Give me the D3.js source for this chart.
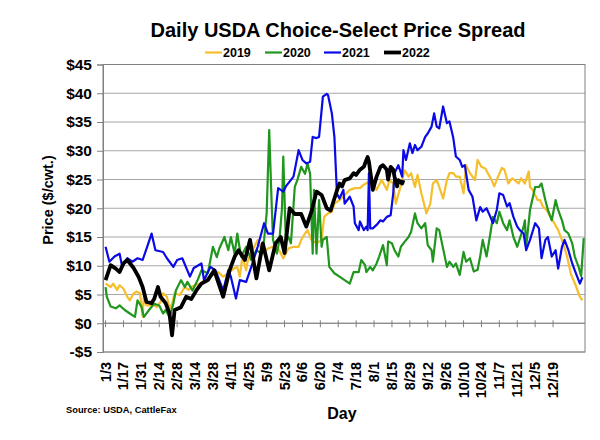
<!DOCTYPE html>
<html>
<head>
<meta charset="utf-8">
<script src="https://cdn.jsdelivr.net/npm/d3@7"></script>
<style>
  body { margin: 0; background: #fff; }
  text { font-family: "Liberation Sans", Arial, sans-serif; font-weight: bold; fill: #000; }
</style>
</head>
<body>
<div id="chart"></div>
<script>
// x is a day index (1/3 = 3), ticks every 14 days
var tickDays = [3, 17, 31, 45, 59, 73, 87, 101, 115, 129, 143, 157, 171, 185, 199, 213, 227, 241, 255, 269, 283, 297, 311, 325, 339, 353];
var tickLabels = ["1/3", "1/17", "1/31", "2/14", "2/28", "3/14", "3/28", "4/11", "4/25", "5/9", "5/23", "6/6", "6/20", "7/4", "7/18", "8/1", "8/15", "8/29", "9/12", "9/26", "10/10", "10/24", "11/7", "11/21", "12/5", "12/19"];
var yTicks = [-5, 0, 5, 10, 15, 20, 25, 30, 35, 40, 45];

var days2019 = [3, 7, 9, 12, 14, 17, 20, 22, 25, 27, 30, 32, 33, 35, 38, 40, 43, 46, 48, 51, 53, 55, 57, 61, 65, 68, 70, 73, 77, 82, 87, 91, 95, 99, 103, 106, 108, 110, 113, 114, 118, 122, 126, 130, 134, 138, 142, 146, 150, 154, 156, 159, 161, 164, 168, 172, 174, 177, 180, 182, 186, 190, 194, 198, 202, 205, 209, 211, 215, 219, 223, 225, 228, 230, 233, 237, 240, 242, 245, 247, 250, 254, 257, 259, 262, 264, 267, 270, 272, 275, 277, 280, 283, 285, 288, 292, 294, 297, 300, 302, 305, 307, 310, 313, 315, 318, 321, 323, 326, 328, 331, 334, 335, 337, 341, 343, 345, 348, 351, 354, 357, 360, 364, 367, 370, 374, 376];
var spread2019 = [6.9, 6.3, 6.9, 5.8, 6.6, 6.0, 4.6, 4.0, 5.2, 5.5, 5.2, 1.2, 4.6, 3.1, 3.1, 3.4, 2.8, 3.7, 5.2, 4.6, 2.6, 3.4, 5.2, 4.9, 6.3, 5.8, 6.3, 6.6, 6.9, 7.8, 8.4, 8.9, 8.1, 8.7, 9.5, 9.8, 8.1, 11.6, 9.2, 10.7, 12.7, 14.5, 12.1, 13.0, 13.3, 13.0, 11.3, 13.0, 13.3, 13.3, 14.5, 15.6, 16.2, 14.5, 13.9, 14.5, 18.5, 19.1, 19.4, 20.8, 21.4, 22.3, 23.2, 23.5, 23.5, 24.1, 24.6, 24.6, 23.2, 24.9, 23.2, 24.9, 24.3, 20.8, 23.2, 26.6, 25.5, 26.1, 23.7, 25.8, 22.6, 19.1, 20.8, 24.3, 24.9, 23.7, 21.7, 24.9, 26.1, 26.1, 25.5, 25.5, 22.6, 27.5, 26.1, 24.9, 28.4, 27.2, 26.9, 26.1, 24.9, 23.8, 25.5, 27.0, 26.7, 24.3, 25.2, 24.9, 24.3, 25.2, 24.3, 26.4, 23.7, 23.2, 21.4, 21.4, 20.3, 19.7, 18.5, 17.4, 16.2, 14.5, 11.6, 8.5, 7.0, 4.6, 4.0];

var days2020 = [3, 4, 7, 11, 14, 18, 22, 26, 28, 31, 33, 37, 41, 45, 48, 50, 53, 56, 58, 62, 65, 67, 71, 75, 78, 83, 87, 90, 92, 96, 99, 101, 104, 106, 109, 113, 117, 121, 125, 127, 129, 131, 133, 134, 137, 139, 141, 142, 144, 146, 148, 151, 153, 156, 159, 161, 163, 165, 166, 168, 170, 172, 173, 176, 178, 182, 186, 190, 194, 197, 201, 203, 206, 207, 210, 212, 215, 217, 220, 223, 224, 227, 229, 232, 234, 237, 240, 242, 245, 247, 250, 253, 255, 258, 259, 262, 264, 267, 270, 272, 275, 277, 280, 283, 285, 288, 291, 294, 296, 298, 301, 304, 306, 309, 311, 314, 317, 319, 322, 325, 327, 330, 331, 332, 335, 339, 342, 344, 347, 349, 352, 355, 357, 360, 362, 365, 368, 370, 373, 375, 377];
var spread2020 = [6.3, 4.6, 2.9, 2.6, 3.1, 2.3, 1.7, 1.1, 4.0, 2.9, 1.1, 2.3, 3.4, 3.1, 1.7, 2.3, 1.1, 3.4, 5.7, 7.5, 6.3, 7.2, 5.7, 7.5, 9.2, 8.7, 13.3, 11.5, 13.0, 15.0, 12.7, 15.0, 12.1, 15.6, 11.6, 13.3, 11.0, 12.7, 12.1, 14.5, 19.1, 33.6, 20.3, 14.5, 12.1, 14.5, 20.0, 29.0, 14.5, 15.0, 13.9, 23.7, 24.9, 27.2, 26.0, 27.8, 26.0, 12.1, 23.2, 12.1, 21.4, 13.3, 14.5, 15.0, 9.8, 8.7, 8.1, 7.5, 6.9, 8.9, 8.9, 11.0, 10.1, 8.9, 9.8, 9.2, 10.4, 11.6, 13.6, 10.1, 14.2, 13.9, 12.7, 11.6, 13.3, 14.2, 15.0, 15.9, 19.1, 17.4, 16.5, 17.4, 13.6, 12.7, 10.7, 16.5, 16.2, 13.0, 9.8, 10.7, 9.8, 10.4, 8.4, 12.4, 10.7, 11.3, 9.0, 9.3, 11.6, 14.5, 11.6, 15.6, 18.5, 17.4, 19.4, 17.4, 16.2, 17.9, 15.0, 13.3, 14.7, 16.8, 17.9, 13.3, 19.7, 23.7, 23.7, 24.3, 21.4, 19.7, 17.9, 21.4, 19.7, 17.9, 16.2, 15.6, 13.9, 11.6, 9.8, 8.2, 14.8];

var days2021 = [3, 6, 10, 14, 16, 20, 24, 28, 32, 36, 39, 42, 48, 51, 56, 59, 63, 69, 72, 78, 80, 85, 89, 95, 99, 101, 105, 108, 113, 117, 122, 127, 130, 134, 138, 142, 144, 150, 154, 157, 160, 163, 165, 168, 170, 173, 176, 177, 180, 182, 184, 186, 189, 190, 194, 197, 198, 201, 202, 205, 207, 208, 209, 210, 212, 215, 218, 220, 223, 226, 228, 229, 232, 235, 236, 238, 241, 243, 245, 247, 250, 253, 255, 258, 260, 262, 264, 267, 270, 272, 275, 277, 280, 282, 284, 287, 290, 293, 296, 298, 301, 304, 306, 309, 311, 314, 317, 319, 322, 325, 327, 330, 332, 335, 339, 342, 344, 347, 349, 352, 355, 357, 360, 362, 365, 368, 370, 374, 376];
var spread2021 = [13.3, 10.7, 11.6, 12.1, 9.8, 11.3, 10.7, 11.3, 11.0, 13.6, 15.6, 12.7, 12.4, 11.3, 9.8, 11.0, 11.3, 8.1, 9.6, 10.4, 7.5, 9.8, 9.2, 5.7, 9.2, 8.1, 4.3, 7.5, 7.2, 9.8, 13.3, 17.4, 15.6, 15.6, 23.5, 22.9, 23.8, 25.5, 30.1, 28.4, 27.8, 28.1, 32.4, 32.2, 32.4, 39.4, 39.9, 39.7, 36.5, 32.4, 22.5, 21.7, 23.2, 20.8, 22.0, 20.3, 17.4, 16.2, 17.7, 16.2, 16.8, 16.2, 26.1, 16.5, 16.5, 17.1, 17.9, 17.7, 18.5, 18.8, 22.6, 26.1, 27.5, 25.5, 30.1, 28.4, 31.3, 29.6, 31.0, 30.1, 30.7, 32.4, 33.0, 34.2, 36.5, 34.2, 33.9, 37.7, 34.8, 35.1, 32.2, 29.0, 28.4, 27.2, 27.5, 23.2, 22.0, 17.9, 20.2, 19.4, 20.0, 18.5, 17.4, 19.7, 22.6, 22.3, 20.3, 20.9, 18.5, 16.8, 16.2, 15.6, 12.7, 14.5, 17.4, 16.5, 11.3, 14.5, 15.0, 11.6, 12.7, 9.5, 13.3, 14.5, 12.7, 10.4, 9.2, 6.9, 8.0];

var days2022 = [3, 7, 11, 14, 17, 20, 25, 29, 32, 35, 39, 41, 44, 46, 50, 53, 55, 57, 62, 66, 70, 74, 78, 83, 88, 95, 100, 104, 107, 112, 116, 121, 126, 131, 136, 140, 143, 147, 151, 156, 160, 164, 168, 172, 176, 179, 181, 184, 186, 188, 190, 194, 197, 199, 202, 205, 207, 208, 209, 212, 215, 218, 220, 223, 224, 226, 228, 229, 231, 232, 235, 236];
var spread2022 = [7.5, 10.1, 9.5, 8.9, 10.4, 11.0, 9.6, 8.0, 6.3, 3.7, 3.5, 4.2, 6.3, 4.6, 3.5, 1.7, -2.1, 2.3, 2.8, 4.6, 4.2, 5.7, 6.9, 7.5, 9.2, 4.6, 9.2, 11.6, 12.7, 11.0, 14.5, 7.8, 13.9, 9.2, 13.9, 15.0, 12.2, 20.0, 19.0, 19.0, 16.8, 19.4, 22.9, 22.3, 20.0, 19.6, 21.0, 23.1, 24.3, 23.8, 24.9, 25.2, 26.1, 25.8, 26.7, 27.2, 28.4, 28.9, 28.1, 23.2, 25.5, 27.2, 27.5, 26.7, 25.0, 27.2, 26.7, 25.5, 23.8, 24.9, 24.3, 24.9];

var seriesNames = ["2019", "2020", "2021", "2022"];
var seriesColors = ["#F5BE2A", "#20961E", "#0A0AE6", "#000000"];
var seriesWidths = [2.2, 2.2, 2.2, 3.8];
var seriesDays = [days2019, days2020, days2021, days2022];
var seriesVals = [spread2019, spread2020, spread2021, spread2022];

var W = 600, H = 440;
var svg = d3.select("#chart").append("svg").attr("width", W).attr("height", H);

var x = d3.scaleLinear().domain([1, 378]).range([103, 585]);
var y = d3.scaleLinear().domain([-5, 45]).range([352, 64.5]);

// gridlines
svg.append("g").selectAll("line").data(yTicks).enter().append("line")
  .attr("x1", x(1)).attr("x2", x(378))
  .attr("y1", function(d) { return y(d); }).attr("y2", function(d) { return y(d); })
  .attr("stroke", "#a6a6a6").attr("stroke-width", 1);

// plot border
svg.append("rect")
  .attr("x", x(1)).attr("y", y(45))
  .attr("width", x(378) - x(1)).attr("height", y(-5) - y(45))
  .attr("fill", "none").attr("stroke", "#808080").attr("stroke-width", 1);

// y axis
var yAxis = d3.axisLeft(y).tickValues(yTicks).tickSize(6).tickPadding(5)
  .tickFormat(function(d) { return d < 0 ? "-$" + Math.abs(d) : "$" + d; });
var gy = svg.append("g").attr("transform", "translate(" + x(1) + ",0)").call(yAxis);
gy.select(".domain").attr("stroke", "#808080");
gy.selectAll(".tick line").attr("stroke", "#808080");
gy.selectAll("text").style("font-size", "15.5px");

// x axis ticks on the zero line
svg.append("g").selectAll("line").data(tickDays).enter().append("line")
  .attr("x1", function(d) { return x(d); }).attr("x2", function(d) { return x(d); })
  .attr("y1", y(0) - 3).attr("y2", y(0) + 4)
  .attr("stroke", "#808080");
svg.append("line").attr("x1", x(1)).attr("x2", x(378)).attr("y1", y(0)).attr("y2", y(0))
  .attr("stroke", "#808080");

// x tick labels, rotated, below the plot
svg.append("g").selectAll("text").data(tickDays).enter().append("text")
  .attr("transform", function(d) { return "translate(" + (x(d) + 5) + "," + (y(-5) + 10) + ") rotate(-90)"; })
  .attr("text-anchor", "end")
  .style("font-size", "14.5px")
  .text(function(d, i) { return tickLabels[i]; });

// lines
var line = d3.line()
  .x(function(d) { return x(d[0]); })
  .y(function(d) { return y(d[1]); });

seriesNames.forEach(function(name, i) {
  var pts = seriesDays[i].map(function(d, j) { return [d, seriesVals[i][j]]; });
  svg.append("path").datum(pts)
    .attr("d", line)
    .attr("fill", "none")
    .attr("stroke", seriesColors[i])
    .attr("stroke-width", seriesWidths[i])
    .attr("stroke-linejoin", "round");
});

// title
svg.append("text").attr("x", 338).attr("y", 37).attr("text-anchor", "middle")
  .style("font-size", "20px").text("Daily USDA Choice-Select Price Spread");

// legend
var legX = [205, 265, 324, 384];
var leg = svg.append("g").selectAll("g").data(seriesNames).enter().append("g")
  .attr("transform", function(d, i) { return "translate(" + legX[i] + ",57)"; });
leg.append("line").attr("x1", 0).attr("x2", 17).attr("y1", -4.5).attr("y2", -4.5)
  .attr("stroke", function(d, i) { return seriesColors[i]; })
  .attr("stroke-width", function(d, i) { return seriesWidths[i]; });
leg.append("text").attr("x", 18).attr("y", 0).style("font-size", "12.5px").text(function(d) { return d; });

// axis titles
svg.append("text").attr("transform", "translate(53,200) rotate(-90)").attr("text-anchor", "middle")
  .style("font-size", "14.5px").text("Price ($/cwt.)");
svg.append("text").attr("x", 342).attr("y", 419).attr("text-anchor", "middle")
  .style("font-size", "16px").text("Day");
svg.append("text").attr("x", 66).attr("y", 413)
  .style("font-size", "9.3px").text("Source: USDA, CattleFax");
</script>
</body>
</html>
